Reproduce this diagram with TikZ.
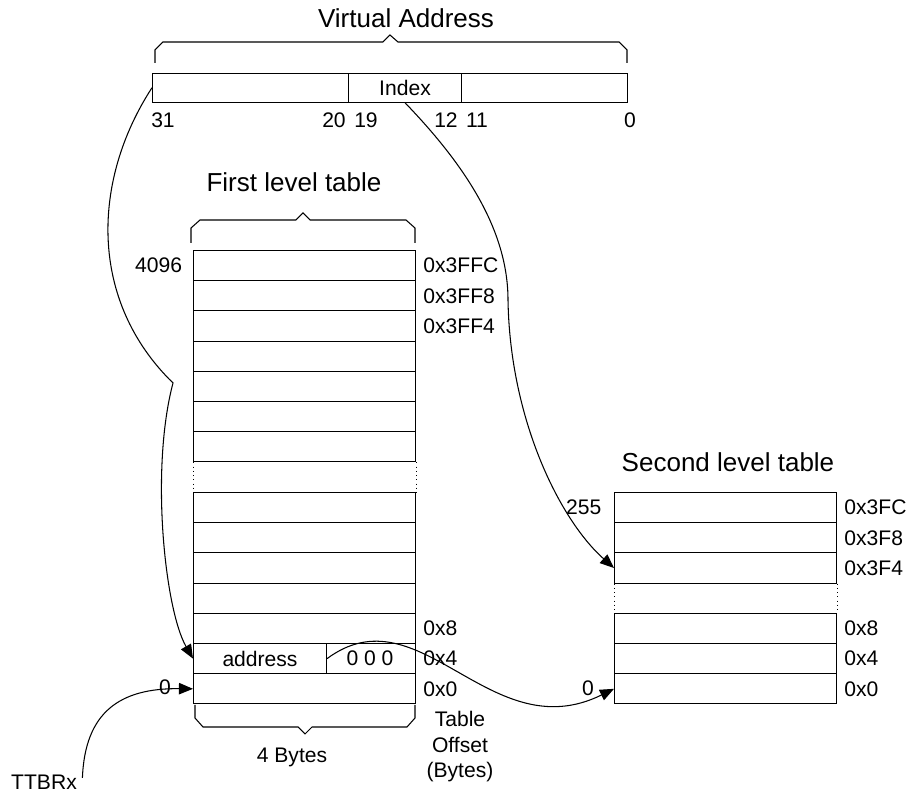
\documentclass[tikz,border=0pt]{standalone}
\usepackage{fontspec}
\setmainfont{Liberation Sans}
\usetikzlibrary{arrows.meta,positioning}
\def\px{0.02cm}
\tikzset{
  cell/.style={draw, line width=0.6pt, minimum width=#1*\px, minimum height=30.2*\px, inner sep=0pt, anchor=north west},
  lbl/.style={inner sep=1pt, font=\fontsize{12}{14}\selectfont},
  title/.style={inner sep=1pt, font=\fontsize{14.8}{17}\selectfont},
  link/.style={line width=0.6pt, -{Triangle[length=8pt,width=6.5pt]}},
  brace/.style={line width=0.6pt},
}

\begin{document}
\begin{tikzpicture}[x=\px, y=-\px]
\useasboundingbox (0,0) rectangle (921,793);

%virtual address
\node[title] (vatitle) at (406,18) {Virtual Address};
\draw[brace] (155,63) -- (155,50) -- (163,42) -- (383,42) -- (390,35) -- (398,42) -- (619,42) -- (627,50) -- (627,63);
\node[cell=196, minimum height=29*\px] (va1) at (152,72.7) {};
\node[cell=113, minimum height=29*\px, lbl] (va2) at (348,72.7) {Index};
\node[cell=166, minimum height=29*\px] (va3) at (461,72.7) {};
\foreach \x/\t in {163/31,334/20,366/19,446/12,477/11,630/0}
  \node[lbl] (bit\t) at (\x,120) {\t};

%first level table
\node[title] (ftitle) at (294,182) {First level table};
\draw[brace] (191,243) -- (191,228) -- (200,220) -- (296,220) -- (303,213) -- (310,220) -- (406,220) -- (415,228) -- (415,243);
\foreach \i in {1,...,7}
  \node[cell=222] (t\i) at (193,{250+30.2*(\i-1)}) {};
\foreach \i in {1,...,7}
  \node[cell=222] (b\i) at (193,{492+30.2*(\i-1)}) {};
\draw[dotted] (t7.south west) -- (b1.north west);
\draw[dotted] (t7.south east) -- (b1.north east);
\node[cell=133, lbl] (addr) at (b6.north west) {address};
\node[lbl] (zer) at (370,658) {0 0 0};
\draw[brace] (195,705) -- (195,718) -- (203,727) -- (298,727) -- (305,734) -- (312,727) -- (407,727) -- (415,718) -- (415,705);
\node[lbl] (bytes) at (292,757) {4 Bytes};
\node[lbl, left=5pt of t1] (top1) {4096};
\node[lbl] (zero1) at (165,687) {0};
\foreach \r/\t in {t1/0x3FFC,t2/0x3FF8,t3/0x3FF4,b5/0x8,b6/0x4,b7/0x0}
  \node[lbl, right=3pt of \r] (off-\r) {\t};
\node[lbl, align=center, font=\fontsize{12}{14.5}\selectfont] (toff) at (460,747) {Table\\Offset\\(Bytes)};

%second level table
\node[title] (stitle) at (728,462) {Second level table};
\foreach \i in {1,2,3,5,6,7}
  \node[cell=222] (s\i) at (614,{492+30.2*(\i-1)}) {};
\draw[dotted] (s3.south west) -- (s5.north west);
\draw[dotted] (s3.south east) -- (s5.north east);
\node[lbl, left=6pt of s1] (top2) {255};
\node[lbl] (zero2) at (588,688) {0};
\foreach \r/\t in {s1/0x3FC,s2/0x3F8,s3/0x3F4,s5/0x8,s6/0x4,s7/0x0}
  \node[lbl, right=3pt of \r] (off-\r) {\t};

%TTBRx
\node[lbl] (ttbr) at (44,782) {TTBRx};

%links
\coordinate (kink) at (173,383);
\coordinate (bend) at (508,300);
\draw[link] (va1.west) .. controls (92,180) and (88,300) .. (kink) .. controls (150,470) and (165,610) .. (addr.west);
\draw[link] (va2.south) .. controls (465,165) and (508,230) .. (bend) .. controls (510,420) and (560,520) .. (s3.west);
\draw[link] (addr.east) .. controls (420,590) and (490,750) .. (s7.west);
\draw[link] ([xshift=2pt,yshift=-3pt]ttbr.north east) .. controls (85,712) and (120,688) .. (b7.west);

\end{tikzpicture}
\end{document}
